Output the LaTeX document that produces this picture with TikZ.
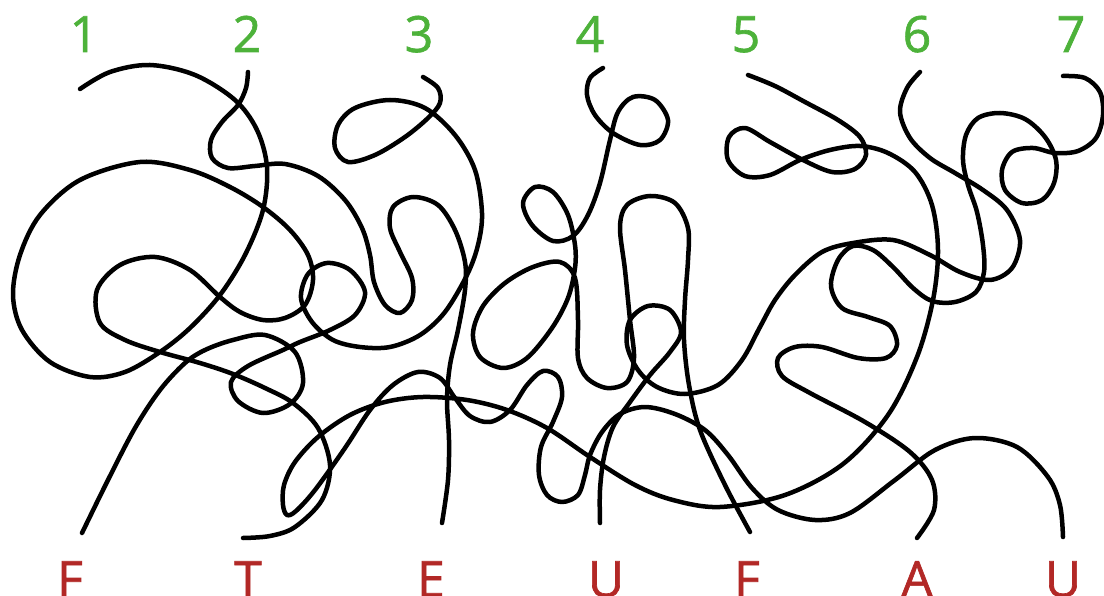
\documentclass[tikz,border=0pt]{standalone}
\usepackage{fontspec}
\setmainfont{Open Sans}
\newfontfamily\lblfont{Open Sans}[FakeBold=1.3]
\definecolor{lblgreen}{RGB}{77,178,58}
\definecolor{lblred}{RGB}{178,40,38}
\begin{document}
\begin{tikzpicture}[x=1pt,y=-1pt,
  strand/.style={line width=4.5pt, line cap=round, line join=round},
  toplbl/.style={text=lblgreen, anchor=base, inner sep=0pt, font=\lblfont\fontsize{50}{50}\selectfont},
  botlbl/.style={text=lblred, anchor=base, inner sep=0pt, font=\lblfont\fontsize{50}{50}\selectfont}]
\useasboundingbox (0,0) rectangle (1104,596);
\fill[white] (0,0) rectangle (1104,596);

% labels
\node[toplbl] (t1) at (84,52) {1};
\node[toplbl] (t2) at (247,52) {2};
\node[toplbl] (t3) at (419,52) {3};
\node[toplbl] (t4) at (590,52) {4};
\node[toplbl] (t5) at (746,52) {5};
\node[toplbl] (t6) at (917,52) {6};
\node[toplbl] (t7) at (1071,52) {7};
\node[botlbl] (bF1) at (70,597) {F};
\node[botlbl] (bT) at (248,597) {T};
\node[botlbl] (bE) at (431,597) {E};
\node[botlbl] (bU1) at (606,597) {U};
\node[botlbl] (bF2) at (747,597) {F};
\node[botlbl] (bA) at (917,597) {A};
\node[botlbl] (bU2) at (1063,597) {U};

% curve 1
\draw[strand] plot[smooth,tension=0.55] coordinates {
(80,89) (110,72) (150,65) (195,75) (235,100) (257,130) (267,167) (263,210)
(245,255) (220,295) (190,328) (160,352) (125,372) (90,377) (50,362) (22,330)
(13,295) (20,255) (40,215) (80,180) (140,162) (190,170) (230,187) (263,207)
(290,230) (308,255) (313,280) (305,305) (285,318) (263,320) (240,312) (220,297)
(190,270) (155,257) (120,265) (97,290) (100,323) (125,340) (160,352) (200,363)
(233,374) (265,388) (293,403) (318,428) (330,465) (322,500) (295,527) (270,536) (243,538)};

% curve 2
\draw[strand] plot[smooth,tension=0.55] coordinates {
(248,72) (246,88) (238,105) (222,122) (211,140) (212,158) (228,168) (255,166)
(285,164) (318,176) (345,200) (362,228) (370,255) (374,282) (385,305) (400,313)
(412,300) (412,278) (400,252) (390,228) (393,207) (413,197) (438,205) (455,230)
(465,262) (465,290) (458,330) (450,365) (447,400) (449,440) (448,480) (442,523)};

% curve 3
\draw[strand] plot[smooth,tension=0.55] coordinates {
(423,77) (438,88) (440,103) (428,118) (405,137) (375,155) (348,162) (335,148)
(338,125) (355,108) (390,100) (425,108) (455,135) (475,170) (482,213) (478,245)
(467,275) (445,312) (420,335) (390,347) (360,347) (333,340) (312,322) (301,298)
(308,274) (327,263) (350,270) (365,292) (355,315) (330,330) (300,342) (283,350)
(248,366) (231,382) (238,401) (263,413) (290,404) (303,383) (295,352) (265,335)
(233,340) (205,350) (185,363) (160,390) (135,428) (108,480) (82,533)};

% curve 4
\draw[strand] plot[smooth,tension=0.55] coordinates {
(603,68) (590,78) (587,95) (595,115) (613,133) (640,145) (660,140) (668,120)
(655,100) (633,97) (618,112) (610,140) (600,183) (588,215) (573,236) (553,241)
(532,225) (523,203) (535,187) (553,192) (568,215) (575,245) (575,268) (568,298)
(552,328) (527,358) (503,368) (480,357) (473,333) (483,306) (505,283) (533,267)
(560,262) (575,278) (578,320) (578,358) (587,378) (607,388) (627,382) (634,358)
(630,320) (625,270) (620,227) (627,205) (650,196) (675,203) (688,228) (688,260)
(685,300) (684,340) (689,385) (700,430) (725,485) (750,532)};

% curve 5
\draw[strand] plot[smooth,tension=0.55] coordinates {
(748,75) (775,86) (805,102) (838,120) (860,137) (866,155) (855,169) (832,172)
(803,160) (770,142) (745,128) (729,137) (728,160) (745,176) (770,175) (800,160)
(830,150) (860,146) (888,153) (915,172) (932,205) (938,250) (933,300) (917,357)
(888,415) (843,464) (785,495) (720,507) (673,500) (635,485) (590,457) (547,428)
(507,410) (467,400) (423,397) (385,402) (350,415) (318,437) (295,462) (284,485)
(283,505) (287,515) (296,511) (315,490) (345,448) (370,410) (393,385) (418,372)
(440,378) (455,398) (470,416) (490,422) (510,410) (527,385) (543,371) (558,377)
(562,397) (553,422) (541,447) (539,475) (547,495) (562,502) (578,495) (585,475)
(590,455) (602,432) (620,414) (645,407) (675,414) (705,430) (728,455) (752,488)
(778,510) (815,520) (850,513) (895,480) (935,450) (975,438) (1017,447) (1048,477)
(1060,505) (1063,537)};

% curve 6
\draw[strand] plot[smooth,tension=0.55] coordinates {
(920,72) (907,88) (900,112) (910,138) (930,158) (955,173) (983,190) (1007,210)
(1020,240) (1012,268) (990,280) (960,272) (930,255) (893,240) (853,243) (822,252)
(795,275) (775,300) (760,327) (742,360) (718,385) (685,394) (657,387) (638,370)
(627,345) (630,320) (648,306) (670,310) (681,332) (670,352) (650,375) (630,402)
(613,427) (604,457) (600,490) (600,523)};

% curve 7
\draw[strand] plot[smooth,tension=0.55] coordinates {
(1063,76) (1085,78) (1100,92) (1103,115) (1096,138) (1078,151) (1055,153) (1033,148)
(1012,152) (1002,170) (1005,190) (1022,203) (1042,200) (1054,183) (1056,160) (1045,137)
(1025,119) (1000,113) (978,118) (966,135) (963,160) (968,185) (977,212) (983,245)
(984,272) (976,292) (955,302) (932,301) (913,288) (893,267) (873,250) (853,246)
(838,260) (831,286) (842,308) (868,317) (890,326) (897,345) (886,358) (858,358)
(822,347) (795,347) (778,358) (782,376) (810,393) (865,422) (910,452) (932,480)
(934,510) (917,538)};
\end{tikzpicture}
\end{document}
